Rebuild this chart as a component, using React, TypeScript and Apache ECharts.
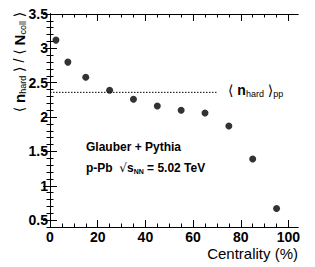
import React, { useEffect, useRef } from "react";
import * as echarts from "echarts";

const centrality = [2.5, 7.5, 15, 25, 35, 45, 55, 65, 75, 85, 95];
const ratio = [3.12, 2.8, 2.58, 2.39, 2.26, 2.16, 2.1, 2.06, 1.87, 1.39, 0.67];
const ppLevel = 2.36;
const ppRange = [0, 70];
const xMajor = [0, 20, 40, 60, 80, 100];
const xMinor = [5, 10, 15, 25, 30, 35, 45, 50, 55, 65, 70, 75, 85, 90, 95];
const yMajor = [0.5, 1, 1.5, 2, 2.5, 3, 3.5];
const yMinor = [0.4, 0.6, 0.7, 0.8, 0.9, 1.1, 1.2, 1.3, 1.4, 1.6, 1.7, 1.8, 1.9, 2.1, 2.2, 2.3, 2.4, 2.6, 2.7, 2.8, 2.9, 3.1, 3.2, 3.3, 3.4];

const FONT = "'Liberation Sans', Arial, 'DejaVu Sans', sans-serif";

export default function App() {
  const ref = useRef<HTMLDivElement>(null);
  useEffect(() => {
    document.body.style.margin = "0";
    const chart = echarts.init(ref.current!, null, { renderer: "svg" });
    const axisLine = { show: true, lineStyle: { color: "#000", width: 1 } };
    const xAxisBase = (pos: string, vals: number[], len: number, labels: boolean) => ({
      type: "value",
      position: pos,
      min: 0,
      max: 104,
      axisLine,
      splitLine: { show: false },
      axisTick: { show: true, inside: true, length: len, customValues: vals, lineStyle: { color: "#000" } },
      axisLabel: labels
        ? { show: true, customValues: xMajor, color: "#000", fontFamily: FONT, fontWeight: "bold", fontSize: 14, margin: 3 }
        : { show: false },
    });
    const yAxisBase = (pos: string, vals: number[], len: number, labels: boolean) => ({
      type: "value",
      position: pos,
      min: 0.4,
      max: 3.5,
      axisLine,
      splitLine: { show: false },
      axisTick: { show: true, inside: true, length: len, customValues: vals, lineStyle: { color: "#000" } },
      axisLabel: labels
        ? { show: true, customValues: yMajor, color: "#000", fontFamily: FONT, fontWeight: "bold", fontSize: 14, margin: 2 }
        : { show: false },
    });
    chart.setOption({
      animation: false,
      grid: { left: 50, right: 17, top: 14, bottom: 40 },
      xAxis: [
        xAxisBase("bottom", xMajor, 7, true),
        xAxisBase("bottom", xMinor, 3.5, false),
        xAxisBase("top", xMajor, 7, false),
        xAxisBase("top", xMinor, 3.5, false),
      ],
      yAxis: [
        yAxisBase("left", yMajor, 7, true),
        yAxisBase("left", yMinor, 3.5, false),
        yAxisBase("right", yMajor, 7, false),
        yAxisBase("right", yMinor, 3.5, false),
      ],
      series: [
        {
          type: "scatter",
          data: centrality.map((c, i) => [c, ratio[i]]),
          symbol: "circle",
          symbolSize: 7,
          itemStyle: { color: "#000" },
          xAxisIndex: 0,
          yAxisIndex: 0,
        },
        {
          type: "line",
          data: ppRange.map((x) => [x, ppLevel]),
          symbol: "none",
          lineStyle: { color: "#000", width: 1, type: [1.5, 1.5] },
          xAxisIndex: 0,
          yAxisIndex: 0,
        },
      ],
      graphic: [
        {
          type: "text",
          x: 19,
          y: 62,
          rotation: Math.PI / 2,
          style: {
            text: "{m|⟨ }{b|n}{s|hard}{m| ⟩ / ⟨ }{b|N}{s|coll}{m| ⟩}",
            align: "center",
            verticalAlign: "middle",
            fill: "#000",
            rich: {
              m: { fontSize: 14, fontFamily: FONT, fill: "#000" },
              b: { fontSize: 15, fontFamily: FONT, fill: "#000", fontWeight: "bold" },
              s: { fontSize: 9, fontFamily: FONT, fill: "#000", padding: [8, 0, 0, 0] },
            },
          },
        },
        {
          type: "text",
          x: 298,
          y: 253,
          style: {
            text: "Centrality (%)",
            align: "right",
            verticalAlign: "middle",
            fontSize: 15,
            fontFamily: FONT,
            fill: "#000",
          },
        },
        {
          type: "text",
          x: 228,
          y: 90,
          style: {
            text: "{m|⟨ }{b|n}{s|hard}{m| ⟩}{s|pp}",
            align: "left",
            verticalAlign: "middle",
            fill: "#000",
            rich: {
              m: { fontSize: 14, fontFamily: FONT, fill: "#000" },
              b: { fontSize: 14, fontFamily: FONT, fill: "#000", fontWeight: "bold" },
              s: { fontSize: 9, fontFamily: FONT, fill: "#000", padding: [8, 0, 0, 0] },
            },
          },
        },
        {
          type: "text",
          x: 86,
          y: 147,
          style: {
            text: "Glauber + Pythia",
            align: "left",
            verticalAlign: "middle",
            fontSize: 12,
            fontWeight: "bold",
            fontFamily: FONT,
            fill: "#000",
          },
        },
        {
          type: "text",
          x: 86,
          y: 168,
          style: {
            text: "{m|p-Pb  }{r|√}{m|s}{s|NN}{m| = 5.02 TeV}",
            align: "left",
            verticalAlign: "middle",
            fill: "#000",
            rich: {
              m: { fontSize: 12, fontFamily: FONT, fill: "#000", fontWeight: "bold" },
              r: { fontSize: 12, fontFamily: "'DejaVu Sans', sans-serif", fill: "#000" },
              s: { fontSize: 7, fontFamily: FONT, fill: "#000", fontWeight: "bold", padding: [7, 0, 0, 0] },
            },
          },
        },
      ],
    });
    return () => chart.dispose();
  }, []);
  return <div ref={ref} style={{ width: 315, height: 267 }} />;
}
